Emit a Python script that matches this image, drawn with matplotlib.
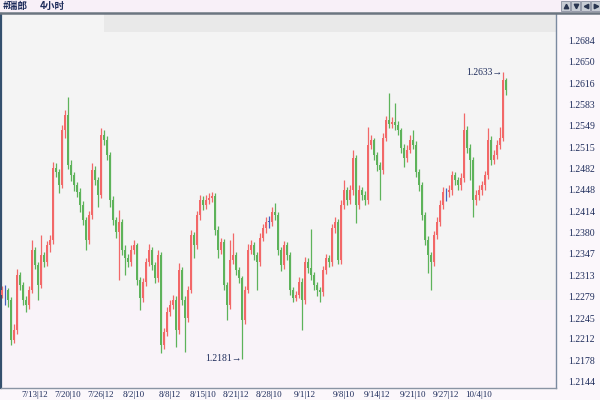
import numpy as np
import matplotlib
matplotlib.use("Agg")
import matplotlib.pyplot as plt
from matplotlib.patches import Rectangle

# 4h candles, swiss franc
first_open = 1.2282
closes = [1.2289, 1.2289, 1.2274, 1.2210, 1.2226, 1.2313, 1.2297, 1.2274, 1.2266, 1.2289,
          1.2353, 1.2329, 1.2297, 1.2345, 1.2334, 1.2360, 1.2368, 1.2482, 1.2476, 1.2455,
          1.2542, 1.2566, 1.2487, 1.2471, 1.2455, 1.2444, 1.2424, 1.2400, 1.2368, 1.2408,
          1.2479, 1.2463, 1.2440, 1.2534, 1.2526, 1.2503, 1.2432, 1.2400, 1.2381, 1.2397,
          1.2353, 1.2340, 1.2334, 1.2353, 1.2360, 1.2305, 1.2277, 1.2302, 1.2334, 1.2353,
          1.2329, 1.2308, 1.2345, 1.2203, 1.2223, 1.2255, 1.2266, 1.2274, 1.2226, 1.2321,
          1.2274, 1.2245, 1.2289, 1.2376, 1.2360, 1.2408, 1.2432, 1.2424, 1.2432, 1.2435,
          1.2438, 1.2384, 1.2353, 1.2365, 1.2297, 1.2266, 1.2337, 1.2345, 1.2321, 1.2308,
          1.2242, 1.2289, 1.2353, 1.2360, 1.2345, 1.2334, 1.2372, 1.2387, 1.2397, 1.2397,
          1.2413, 1.2408, 1.2353, 1.2329, 1.2360, 1.2345, 1.2289, 1.2277, 1.2281, 1.2302,
          1.2274, 1.2334, 1.2324, 1.2313, 1.2297, 1.2289, 1.2286, 1.2321, 1.2340, 1.2334,
          1.2387, 1.2397, 1.2337, 1.2424, 1.2447, 1.2432, 1.2447, 1.2498, 1.2424, 1.2447,
          1.2440, 1.2432, 1.2519, 1.2526, 1.2503, 1.2487, 1.2479, 1.2530, 1.2558, 1.2552,
          1.2555, 1.2550, 1.2542, 1.2514, 1.2498, 1.2511, 1.2526, 1.2519, 1.2476, 1.2455,
          1.2408, 1.2368, 1.2345, 1.2334, 1.2376, 1.2397, 1.2424, 1.2444, 1.2444, 1.2447,
          1.2471, 1.2463, 1.2455, 1.2466, 1.2542, 1.2514, 1.2495, 1.2432, 1.2440, 1.2447,
          1.2455, 1.2471, 1.2526, 1.2495, 1.2503, 1.2519, 1.2530, 1.2621, 1.2605]
highs = [1.2296, 1.2297, 1.2292, 1.2278, 1.2235, 1.2322, 1.2318, 1.2302, 1.2280, 1.2295,
         1.2368, 1.2358, 1.2334, 1.2376, 1.2350, 1.2366, 1.2376, 1.2492, 1.2490, 1.2480,
         1.2550, 1.2574, 1.2594, 1.2495, 1.2476, 1.2460, 1.2450, 1.2430, 1.2405, 1.2414,
         1.2490, 1.2486, 1.2468, 1.2545, 1.2542, 1.2532, 1.2508, 1.2438, 1.2405, 1.2416,
         1.2402, 1.2360, 1.2346, 1.2360, 1.2368, 1.2364, 1.2310, 1.2308, 1.2340, 1.2362,
         1.2358, 1.2334, 1.2353, 1.2350, 1.2230, 1.2262, 1.2274, 1.2282, 1.2280, 1.2332,
         1.2326, 1.2280, 1.2296, 1.2384, 1.2381, 1.2414, 1.2440, 1.2438, 1.2440, 1.2442,
         1.2444, 1.2442, 1.2390, 1.2372, 1.2370, 1.2302, 1.2368, 1.2379, 1.2350, 1.2326,
         1.2312, 1.2296, 1.2362, 1.2368, 1.2365, 1.2350, 1.2380, 1.2394, 1.2404, 1.2406,
         1.2420, 1.2427, 1.2412, 1.2358, 1.2366, 1.2365, 1.2350, 1.2294, 1.2288, 1.2310,
         1.2308, 1.2342, 1.2340, 1.2386, 1.2318, 1.2302, 1.2294, 1.2328, 1.2347, 1.2345,
         1.2394, 1.2405, 1.2402, 1.2432, 1.2463, 1.2452, 1.2455, 1.2511, 1.2502, 1.2455,
         1.2452, 1.2446, 1.2547, 1.2534, 1.2530, 1.2508, 1.2492, 1.2538, 1.2565, 1.2600,
         1.2562, 1.2585, 1.2556, 1.2546, 1.2520, 1.2518, 1.2534, 1.2542, 1.2524, 1.2480,
         1.2460, 1.2412, 1.2374, 1.2350, 1.2383, 1.2404, 1.2432, 1.2452, 1.2450, 1.2455,
         1.2478, 1.2476, 1.2468, 1.2474, 1.2569, 1.2548, 1.2520, 1.2500, 1.2448, 1.2455,
         1.2462, 1.2478, 1.2545, 1.2532, 1.2510, 1.2526, 1.2547, 1.2633, 1.2624]
lows = [1.2276, 1.2266, 1.2262, 1.2202, 1.2205, 1.2220, 1.2290, 1.2266, 1.2255, 1.2260,
        1.2284, 1.2322, 1.2274, 1.2292, 1.2325, 1.2328, 1.2350, 1.2362, 1.2468, 1.2443,
        1.2450, 1.2530, 1.2480, 1.2462, 1.2446, 1.2436, 1.2413, 1.2392, 1.2353, 1.2362,
        1.2402, 1.2455, 1.2421, 1.2435, 1.2518, 1.2495, 1.2421, 1.2392, 1.2372, 1.2305,
        1.2345, 1.2313, 1.2325, 1.2328, 1.2346, 1.2297, 1.2258, 1.2270, 1.2296, 1.2328,
        1.2321, 1.2300, 1.2302, 1.2190, 1.2196, 1.2217, 1.2248, 1.2260, 1.2199, 1.2220,
        1.2266, 1.2191, 1.2238, 1.2284, 1.2340, 1.2354, 1.2400, 1.2416, 1.2418, 1.2425,
        1.2428, 1.2376, 1.2340, 1.2346, 1.2289, 1.2242, 1.2260, 1.2330, 1.2313, 1.2300,
        1.2181, 1.2235, 1.2284, 1.2346, 1.2337, 1.2289, 1.2328, 1.2366, 1.2380, 1.2388,
        1.2390, 1.2400, 1.2345, 1.2320, 1.2322, 1.2337, 1.2281, 1.2270, 1.2272, 1.2276,
        1.2226, 1.2268, 1.2316, 1.2305, 1.2290, 1.2280, 1.2270, 1.2280, 1.2315, 1.2326,
        1.2328, 1.2380, 1.2330, 1.2330, 1.2418, 1.2424, 1.2426, 1.2440, 1.2395, 1.2418,
        1.2432, 1.2424, 1.2426, 1.2512, 1.2495, 1.2478, 1.2432, 1.2472, 1.2524, 1.2545,
        1.2545, 1.2542, 1.2535, 1.2506, 1.2484, 1.2492, 1.2505, 1.2512, 1.2468, 1.2446,
        1.2400, 1.2360, 1.2316, 1.2289, 1.2328, 1.2370, 1.2390, 1.2418, 1.2430, 1.2436,
        1.2440, 1.2455, 1.2447, 1.2448, 1.2460, 1.2505, 1.2463, 1.2405, 1.2424, 1.2432,
        1.2440, 1.2448, 1.2465, 1.2487, 1.2488, 1.2496, 1.2512, 1.2524, 1.2598]

y_ticks = [1.2144, 1.2178, 1.2212, 1.2245, 1.2279, 1.2313, 1.2347, 1.2380, 1.2414,
           1.2448, 1.2482, 1.2515, 1.2549, 1.2583, 1.2616, 1.2650, 1.2684]
x_tick_idx = [11, 22, 33, 44, 56, 67, 78, 89, 101, 114, 125, 137, 148, 159]
x_tick_labels = ['7/13|12', '7/20|10', '7/26|12', '8/2|10', '8/8|12', '8/15|10', '8/21|12',
                 '8/28|10', '9/1|12', '9/8|10', '9/14|12', '9/21|10', '9/27|12', '10/4|10']
symbol = '#瑞郎'
period = '4小时'

opens = np.array([first_open] + closes[:-1])
closes = np.array(closes)
highs = np.array(highs)
lows = np.array(lows)
idx = np.arange(len(closes))

col_up, col_dn, col_eq = '#f26868', '#5db35a', '#4262c0'
colors = np.where(closes > opens, col_up, np.where(closes < opens, col_dn, col_eq))

navy = '#1f2d5c'
W, H = 600, 400
fig = plt.figure(figsize=(6, 4), dpi=100, facecolor='#fbf7fb')

# header strip
fig.patches.append(Rectangle((0, 1 - 12 / H), 1, 12 / H, transform=fig.transFigure,
                             facecolor='#f8f0f8', edgecolor='none', zorder=0))
fig.lines.append(plt.Line2D([0, 1], [1 - 12.5 / H] * 2, transform=fig.transFigure,
                            color='#6b7580', lw=1.8))
cjk = ['Noto Sans CJK SC', 'DejaVu Sans']
fig.text(3 / W, 1 - 6 / H, symbol, family=cjk, fontsize=7, fontweight='bold', color=navy, va='center')
fig.text(40 / W, 1 - 6 / H, period, family=cjk, fontsize=7, fontweight='bold', color=navy, va='center')
for k, m in enumerate(['^', 'v', '<', '>']):
    x0 = 561 + k * 10
    fig.patches.append(Rectangle((x0 / W, 1 - 11 / H), 9 / W, 10 / H, transform=fig.transFigure,
                                 facecolor='#c8ccd4', edgecolor='#8a90a0', lw=0.6))
    fig.lines.append(plt.Line2D([(x0 + 4.5) / W], [1 - 6 / H], transform=fig.transFigure,
                                marker=m, ms=3.2, color='#2a3550', lw=0))

ax = fig.add_axes([1 / W, 12 / H, 555 / W, 374 / H])
ax.set_facecolor('#f4f4f4')
ax.set_xlim(-0.33, 184.67)
ax.set_ylim(1.21345, 1.27254)

ax.axhspan(1.21345, 1.2274, color='#f9f3f9', zorder=0, lw=0)
ax.axhspan(1.2697, 1.27254, xmin=103 / 555, color='#e9e9e9', zorder=0, lw=0)

ax.vlines(idx, lows, highs, colors=colors, lw=0.9, zorder=2)
body_bot = np.minimum(opens, closes)
body_h = np.maximum(np.abs(closes - opens), 0.00006)
ax.bar(idx, body_h, bottom=body_bot, width=0.85, color=colors, lw=0, zorder=3)

serif = ['Liberation Serif', 'DejaVu Sans']
i_lo = int(np.argmin(lows))
i_hi = int(np.argmax(highs))
ax.text(i_lo - 0.2, lows[i_lo], '%.4f→' % lows[i_lo], family=serif, fontsize=7,
        color=navy, ha='right', va='center', zorder=4)
ax.text(i_hi - 0.2, highs[i_hi], '%.4f→' % highs[i_hi], family=serif, fontsize=7,
        color=navy, ha='right', va='center', zorder=4)

ax.yaxis.tick_right()
ax.set_yticks(y_ticks)
ax.set_yticklabels(['%.4f' % v for v in y_ticks], family=serif, fontsize=7, color=navy)
ax.set_xticks(x_tick_idx)
ax.set_xticklabels(x_tick_labels, family=serif, fontsize=6.5, color=navy)
ax.tick_params(axis='y', length=0, pad=9)
ax.tick_params(axis='x', length=0, pad=2)

ax.spines['top'].set_visible(False)
ax.spines['left'].set_color('#34506e')
ax.spines['left'].set_linewidth(1.6)
ax.spines['right'].set_color('#7a8aa0')
ax.spines['right'].set_linewidth(1.0)
ax.spines['bottom'].set_color('#8a94a4')
ax.spines['bottom'].set_linewidth(1.0)

fig.savefig('out.png', dpi=100, facecolor=fig.get_facecolor())
